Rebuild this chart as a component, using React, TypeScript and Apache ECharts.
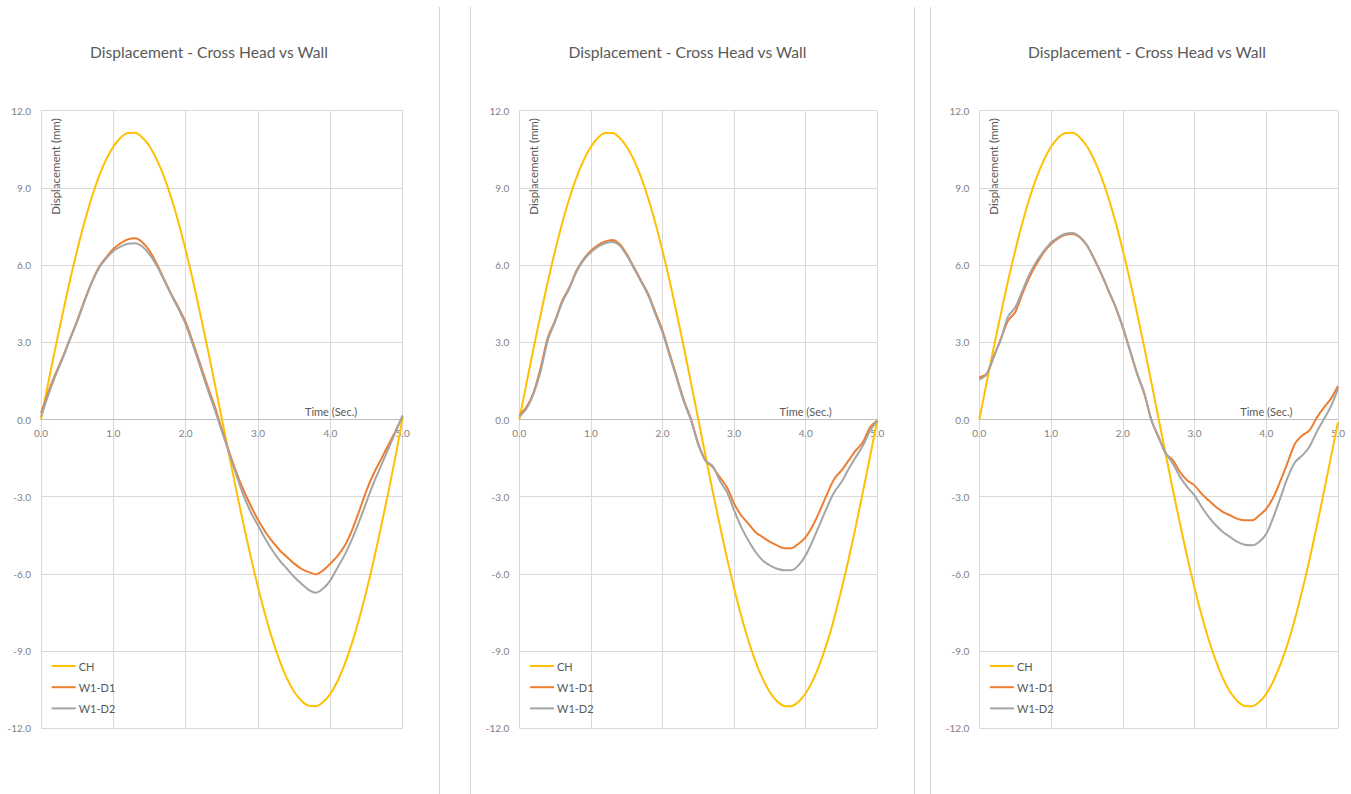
import React, { useEffect, useRef } from "react";
import * as echarts from "echarts";

const TITLE = "Displacement - Cross Head vs Wall";
const Y_NAME = "Displacement (mm)";
const X_NAME = "Time (Sec.)";
const SERIES_NAMES = ["CH", "W1-D1", "W1-D2"];
const COLORS = ["#FFC000", "#ED7D31", "#A5A5A5"];

const TIME = [
  0.0, 0.1, 0.2, 0.3, 0.4, 0.5, 0.6, 0.7, 0.8, 0.9,
  1.0, 1.1, 1.2, 1.3, 1.4, 1.5, 1.6, 1.7, 1.8, 1.9,
  2.0, 2.1, 2.2, 2.3, 2.4, 2.5, 2.6, 2.7, 2.8, 2.9,
  3.0, 3.1, 3.2, 3.3, 3.4, 3.5, 3.6, 3.7, 3.8, 3.9,
  4.0, 4.1, 4.2, 4.3, 4.4, 4.5, 4.6, 4.7, 4.8, 4.9, 5.0,
];

// Panel 1
const CH_1 = [
  0.0, 1.42, 2.8, 4.12, 5.4, 6.58, 7.66, 8.62, 9.44, 10.1,
  10.6, 10.95, 11.13, 11.14, 10.96, 10.62, 10.1, 9.44, 8.62, 7.66,
  6.58, 5.4, 4.12, 2.8, 1.42, 0.02, -1.38, -2.75, -4.08, -5.34,
  -6.52, -7.6, -8.56, -9.38, -10.06, -10.58, -10.93, -11.12, -11.14, -10.98,
  -10.66, -10.16, -9.5, -8.68, -7.72, -6.64, -5.46, -4.18, -2.84, -1.44, 0.08,
];
const D1_1 = [
  0.25, 1.06, 1.77, 2.42, 3.13, 3.84, 4.62, 5.33, 5.92, 6.3,
  6.63, 6.85, 7.0, 7.04, 6.89, 6.56, 6.05, 5.46, 4.88, 4.36,
  3.78, 3.0, 2.16, 1.32, 0.52, -0.38, -1.25, -2.05, -2.75, -3.35,
  -3.9, -4.36, -4.75, -5.08, -5.35, -5.6, -5.8, -5.93, -6.02, -5.86,
  -5.6, -5.3, -4.9, -4.3, -3.55, -2.75, -2.1, -1.55, -1.0, -0.45, 0.15,
];
const D2_1 = [
  0.1, 0.95, 1.7, 2.38, 3.1, 3.8, 4.58, 5.3, 5.88, 6.25,
  6.55, 6.72, 6.83, 6.85, 6.72, 6.42, 5.98, 5.42, 4.85, 4.3,
  3.7, 2.9, 2.05, 1.2, 0.4, -0.45, -1.3, -2.15, -2.95, -3.6,
  -4.12, -4.63, -5.09, -5.48, -5.8, -6.12, -6.38, -6.62, -6.73, -6.57,
  -6.25, -5.75, -5.25, -4.65, -3.95, -3.2, -2.45, -1.8, -1.15, -0.5, 0.15,
];

// Panel 2
const CH_2 = [
  0.0, 1.4, 2.78, 4.1, 5.38, 6.56, 7.64, 8.6, 9.42, 10.08,
  10.6, 10.95, 11.13, 11.13, 10.95, 10.6, 10.09, 9.42, 8.6, 7.64,
  6.56, 5.38, 4.1, 2.78, 1.4, 0.0, -1.4, -2.78, -4.1, -5.38,
  -6.56, -7.64, -8.6, -9.42, -10.08, -10.6, -10.95, -11.13, -11.14, -10.97,
  -10.64, -10.14, -9.47, -8.66, -7.7, -6.6, -5.42, -4.14, -2.8, -1.42, -0.02,
];
const D1_2 = [
  0.16, 0.48, 1.06, 2.03, 3.2, 3.84, 4.62, 5.14, 5.79, 6.24,
  6.56, 6.78, 6.92, 6.98, 6.82, 6.43, 5.92, 5.4, 4.88, 4.17,
  3.46, 2.55, 1.64, 0.74, 0.0, -0.94, -1.59, -1.85, -2.24, -2.63,
  -3.27, -3.73, -4.05, -4.38, -4.57, -4.76, -4.89, -5.0, -5.0, -4.83,
  -4.57, -4.12, -3.53, -2.89, -2.3, -1.98, -1.59, -1.2, -0.88, -0.3, -0.04,
];
const D2_2 = [
  0.12, 0.42, 1.0, 1.9, 3.1, 3.8, 4.55, 5.1, 5.75, 6.2,
  6.5, 6.72, 6.85, 6.9, 6.76, 6.38, 5.88, 5.36, 4.82, 4.1,
  3.38, 2.48, 1.58, 0.68, -0.05, -0.98, -1.6, -1.8, -2.37, -2.82,
  -3.53, -4.18, -4.7, -5.15, -5.48, -5.67, -5.8, -5.86, -5.86, -5.67,
  -5.28, -4.7, -4.05, -3.4, -2.82, -2.43, -1.92, -1.46, -1.01, -0.43, -0.04,
];

// Panel 3
const CH_3 = [
  0.0, 1.4, 2.78, 4.1, 5.38, 6.56, 7.64, 8.6, 9.42, 10.08,
  10.6, 10.95, 11.13, 11.14, 10.96, 10.62, 10.1, 9.43, 8.62, 7.66,
  6.58, 5.4, 4.12, 2.8, 1.42, 0.02, -1.38, -2.76, -4.08, -5.36,
  -6.54, -7.62, -8.58, -9.4, -10.08, -10.6, -10.95, -11.13, -11.14, -10.98,
  -10.66, -10.16, -9.5, -8.7, -7.74, -6.66, -5.48, -4.2, -2.86, -1.48, -0.1,
];
const D1_3 = [
  1.64, 1.77, 2.42, 3.13, 3.84, 4.17, 4.88, 5.53, 6.05, 6.5,
  6.82, 7.04, 7.18, 7.21, 7.08, 6.76, 6.24, 5.66, 5.01, 4.36,
  3.58, 2.68, 1.77, 1.0, -0.04, -0.69, -1.33, -1.59, -2.05, -2.37,
  -2.56, -2.89, -3.15, -3.4, -3.6, -3.73, -3.86, -3.92, -3.92, -3.73,
  -3.47, -3.02, -2.37, -1.66, -0.94, -0.62, -0.43, 0.05, 0.45, 0.8, 1.3,
];
const D2_3 = [
  1.55, 1.75, 2.45, 3.1, 4.0, 4.35, 5.0, 5.65, 6.15, 6.55,
  6.88, 7.08, 7.22, 7.25, 7.1, 6.78, 6.26, 5.68, 5.03, 4.38,
  3.6, 2.7, 1.8, 1.02, -0.02, -0.7, -1.3, -1.72, -2.24, -2.63,
  -2.95, -3.4, -3.79, -4.12, -4.38, -4.57, -4.76, -4.87, -4.89, -4.76,
  -4.44, -3.79, -3.02, -2.24, -1.66, -1.4, -1.07, -0.5, 0.0, 0.5, 1.2,
];

const PANEL_DATA = [
  [CH_1, D1_1, D2_1],
  [CH_2, D1_2, D2_2],
  [CH_3, D1_3, D2_3],
];

// layout (pixels)
const GRID_LEFT = [41, 519.3, 979.3];
const GRID_WIDTH = [361.7, 358, 358.7];
const GRID_TOP = 110.7;
const GRID_HEIGHT = 617.6;
const TITLE_X = [209, 687.5, 1147];
const SEPARATORS = [439.5, 470.5, 914.5, 930.5];

const FONT = "Lato, 'Open Sans', sans-serif";

export default function App() {
  const ref = useRef<HTMLDivElement>(null);

  useEffect(() => {
    if (!ref.current) return;
    const chart = echarts.init(ref.current, undefined, { renderer: "svg" });

    const grids = GRID_LEFT.map((l, i) => ({
      left: l,
      top: GRID_TOP,
      width: GRID_WIDTH[i],
      height: GRID_HEIGHT,
      containLabel: false,
    }));

    const xAxes = GRID_LEFT.map((_, i) => ({
      type: "value",
      gridIndex: i,
      position: "bottom",
      offset: -GRID_HEIGHT / 2,
      min: 0,
      max: 5,
      interval: 1,
      axisLine: { show: true, onZero: false, lineStyle: { color: "#bfbfbf", width: 1 } },
      axisTick: { show: false },
      axisLabel: {
        color: "#7f7f7f",
        fontSize: 10,
        fontFamily: FONT,
        margin: 8,
        formatter: (v: number) => v.toFixed(1),
      },
      splitLine: { show: true, lineStyle: { color: "#d9d9d9", width: 1 } },
    }));

    const yAxes = GRID_LEFT.map((_, i) => ({
      type: "value",
      gridIndex: i,
      min: -12,
      max: 12,
      interval: 3,
      axisLine: { show: false },
      axisTick: { show: false },
      axisLabel: {
        color: "#7f7f7f",
        fontSize: 10,
        fontFamily: FONT,
        margin: 10,
        formatter: (v: number) => v.toFixed(1),
      },
      splitLine: { show: true, lineStyle: { color: "#d9d9d9", width: 1 } },
    }));

    const series: any[] = [];
    PANEL_DATA.forEach((panel, i) => {
      panel.forEach((vals, s) => {
        series.push({
          name: SERIES_NAMES[s],
          type: "line",
          xAxisIndex: i,
          yAxisIndex: i,
          data: TIME.map((t, k) => [t, vals[k]]),
          symbol: "none",
          showSymbol: false,
          smooth: 0.3,
          lineStyle: { color: COLORS[s], width: 2 },
          itemStyle: { color: COLORS[s] },
          z: 3 + s,
        });
      });
    });

    const legends = GRID_LEFT.map((l) => ({
      orient: "vertical",
      left: l + 10.7,
      top: 660.5,
      padding: 0,
      itemWidth: 24,
      itemHeight: 2,
      itemGap: 10.2,
      icon: "rect",
      data: SERIES_NAMES,
      textStyle: { color: "#595959", fontSize: 11, fontFamily: FONT, padding: [0, 0, 0, -2] },
      selectedMode: false,
    }));

    const graphics: any[] = [];
    SEPARATORS.forEach((x) => {
      graphics.push({
        type: "line",
        shape: { x1: x, y1: 7, x2: x, y2: 794 },
        style: { stroke: "#d4d4d4", lineWidth: 1 },
        silent: true,
      });
    });
    GRID_LEFT.forEach((l, i) => {
      graphics.push({
        type: "text",
        x: TITLE_X[i],
        y: 51.5,
        style: {
          text: TITLE,
          fill: "#595959",
          font: `15.6px ${FONT}`,
          textAlign: "center",
          textVerticalAlign: "middle",
        },
      });
      graphics.push({
        type: "text",
        x: l + 14,
        y: 166.5,
        rotation: Math.PI / 2,
        style: {
          text: Y_NAME,
          fill: "#595959",
          font: `11.5px ${FONT}`,
          textAlign: "center",
          textVerticalAlign: "middle",
        },
      });
      graphics.push({
        type: "text",
        x: l + GRID_WIDTH[i] - 45.5,
        y: 411,
        style: {
          text: X_NAME,
          fill: "#595959",
          font: `11px ${FONT}`,
          textAlign: "right",
          textVerticalAlign: "middle",
        },
      });
    });

    chart.setOption({
      animation: false,
      backgroundColor: "#ffffff",
      grid: grids,
      xAxis: xAxes,
      yAxis: yAxes,
      legend: legends,
      series,
      graphic: graphics,
    });

    return () => {
      chart.dispose();
    };
  }, []);

  return (
    <div
      ref={ref}
      style={{ position: "absolute", left: 0, top: 0, width: 1351, height: 794 }}
    />
  );
}
